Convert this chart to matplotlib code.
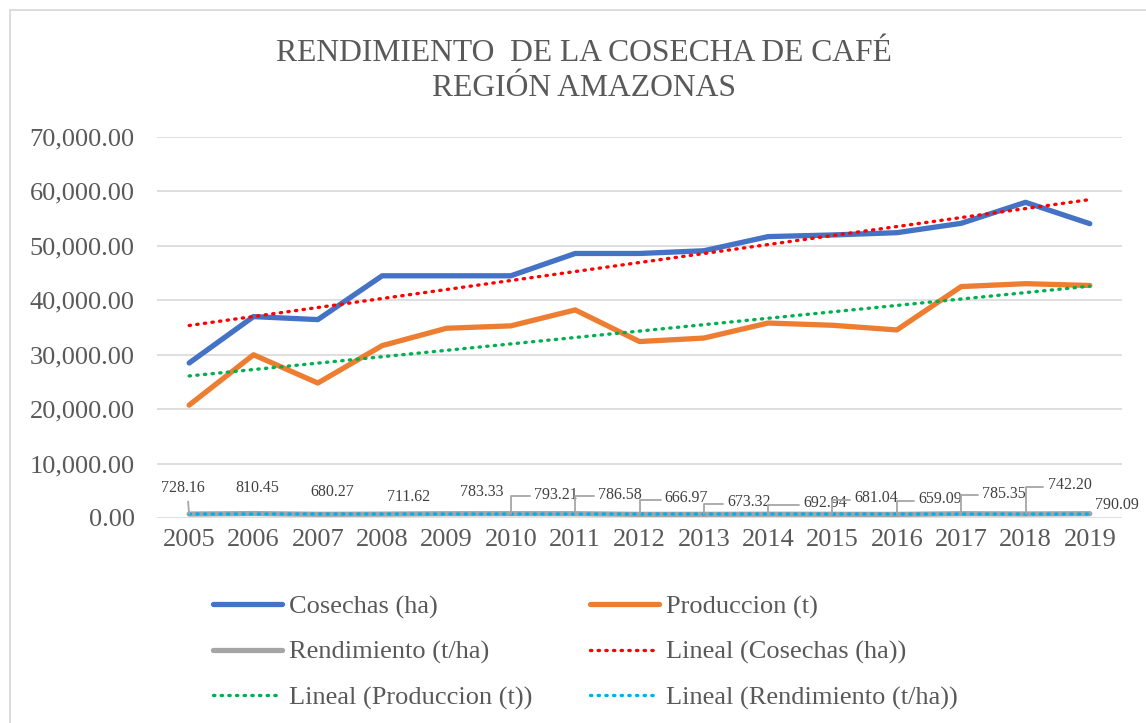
import numpy as np
import matplotlib
matplotlib.use("Agg")
import matplotlib.pyplot as plt
from matplotlib.patches import Rectangle
from matplotlib.ticker import FuncFormatter

years = ["2005", "2006", "2007", "2008", "2009", "2010", "2011", "2012",
         "2013", "2014", "2015", "2016", "2017", "2018", "2019"]
cosechas = [28480, 37000, 36450, 44500, 44500, 44500, 48600, 48600,
            49100, 51700, 52000, 52420, 54140, 58000, 54070]
produccion = [20740, 29990, 24800, 31670, 34860, 35300, 38230, 32420,
              33060, 35820, 35410, 34550, 42520, 43050, 42720]
rendimiento = [728.16, 810.45, 680.27, 711.62, 783.33, 793.21, 786.58, 666.97,
               673.32, 692.94, 681.04, 659.09, 785.35, 742.20, 790.09]
rend_labels = ["728.16", "810.45", "680.27", "711.62", "783.33", "793.21", "786.58",
               "666.97", "673.32", "692.94", "681.04", "659.09", "785.35", "742.20", "790.09"]

title = "RENDIMIENTO  DE LA COSECHA DE CAFÉ\nREGIÓN AMAZONAS"

# layout: label offsets in pixels and whether a leader line is drawn
label_offsets = [(-6, 26), (4, 26), (14, 22), (26, 17), (35, 22), (45, 19), (45, 19),
                 (47, 16), (45, 12), (57, 11), (44, 16), (43, 15), (43, 20), (44, 29), (27, 9)]
leaders = [True, False, False, False, False, True, True, True, True, True, True, True, True, True, False]

plt.rcParams['font.family'] = ['Liberation Serif', 'DejaVu Serif']
TXT = '#595959'
GRID = '#D9D9D9'

fig = plt.figure(figsize=(11.46, 7.23), dpi=100)
W, H = 1146, 723
ax = fig.add_axes([157 / W, (H - 518) / H, (1122 - 157) / W, (518 - 137) / H])

x = np.arange(len(years))
ax.set_xlim(-0.5, len(years) - 0.5)
ax.set_ylim(0, 70000)
ax.set_yticks(np.arange(0, 70001, 10000))
ax.yaxis.set_major_formatter(FuncFormatter(lambda v, p: f"{v:,.2f}"))
ax.set_xticks(x)
ax.set_xticklabels(years)
ax.grid(axis='y', color=GRID, lw=1.2)
ax.set_axisbelow(True)
for s in ax.spines.values():
    s.set_visible(False)
ax.tick_params(length=0, labelsize=19, colors=TXT)
ax.tick_params(axis='y', pad=16)
ax.tick_params(axis='x', pad=8)

dot = (0, (0.4, 1.9))
l1, = ax.plot(x, cosechas, color='#4472C4', lw=3.8, solid_capstyle='round', solid_joinstyle='round', zorder=3)
l2, = ax.plot(x, produccion, color='#ED7D31', lw=3.8, solid_capstyle='round', solid_joinstyle='round', zorder=3)
l3, = ax.plot(x, rendimiento, color='#A5A5A5', lw=3.8, solid_capstyle='round', zorder=3)

def trend(vals):
    c = np.polyfit(x, vals, 1)
    return np.polyval(c, x)

t1, = ax.plot(x, trend(cosechas), color='#FF0000', lw=2.4, ls=dot, dash_capstyle='round', zorder=4)
t2, = ax.plot(x, trend(produccion), color='#00B050', lw=2.4, ls=dot, dash_capstyle='round', zorder=4)
t3, = ax.plot(x, trend(rendimiento), color='#00B0F0', lw=2.4, ls=dot, dash_capstyle='round', zorder=4)

for i, (lab, off, ld) in enumerate(zip(rend_labels, label_offsets, leaders)):
    kw = dict(xy=(x[i], rendimiento[i]), xytext=off, textcoords='offset pixels',
              ha='center', va='center', fontsize=11.5, color='#404040', zorder=5)
    if ld:
        if i == 0:
            kw['arrowprops'] = dict(arrowstyle='-', color='#A6A6A6', lw=1.3, shrinkA=2, shrinkB=0,
                                    relpos=(0.6, 0.0))
        else:
            kw['arrowprops'] = dict(arrowstyle='-', color='#A6A6A6', lw=1.3, shrinkA=1, shrinkB=0,
                                    relpos=(0.0, 0.4),
                                    connectionstyle='angle,angleA=0,angleB=90,rad=0')
    ax.annotate(lab, **kw)

fig.text(584 / W, 1 - 71 / H, title, ha='center', va='center', fontsize=22.8, color=TXT,
         linespacing=1.3)

handles = [l1, l2, l3, t1, t2, t3]
labels = ["Cosechas (ha)", "Produccion (t)", "Rendimiento (t/ha)", "Lineal (Cosechas (ha))",
          "Lineal (Produccion (t))", "Lineal (Rendimiento (t/ha))"]
order = [0, 2, 4, 1, 3, 5]
leg = fig.legend([handles[k] for k in order], [labels[k] for k in order], ncol=2,
                 loc='upper left', bbox_to_anchor=(200 / W, 1 - 582 / H), frameon=False,
                 fontsize=19, handlelength=2.6, handletextpad=0.27, columnspacing=2.2,
                 labelspacing=0.81, borderpad=0)
for t in leg.get_texts():
    t.set_color(TXT)

fig.patches.append(Rectangle((10 / W, -0.1), 1.2, 1 - 10 / H + 0.1, transform=fig.transFigure,
                             fill=False, edgecolor=GRID, lw=1.3))

fig.savefig("out.png", dpi=100, facecolor='white')
